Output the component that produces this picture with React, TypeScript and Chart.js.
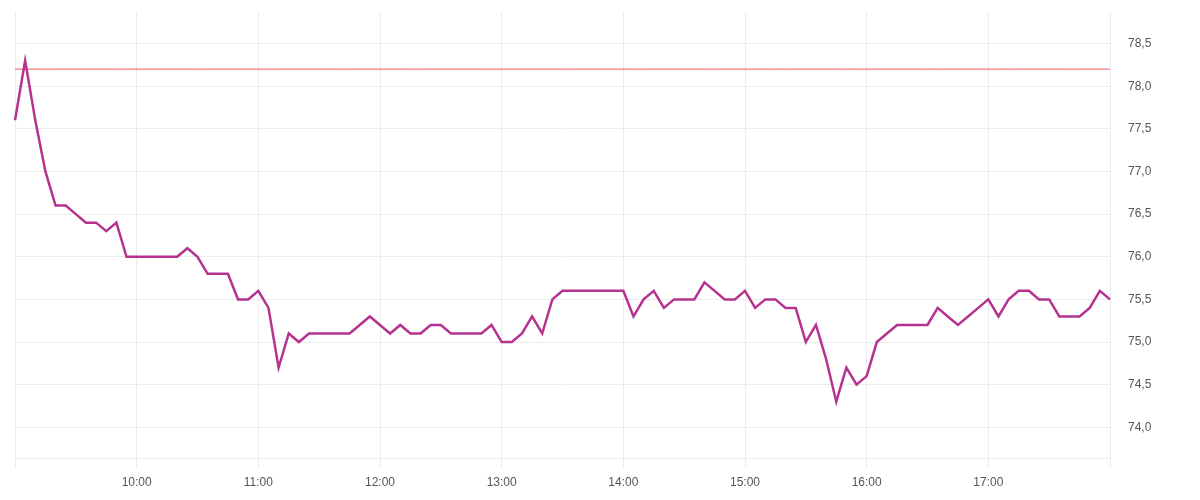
import React, { useEffect, useRef } from "react";
import { Chart, registerables } from "chart.js";

Chart.register(...registerables);

const times: string[] = [
  "9:00", "9:05", "9:10", "9:15", "9:20", "9:25", "9:30", "9:35", "9:40", "9:45", "9:50", "9:55",
  "10:00", "10:05", "10:10", "10:15", "10:20", "10:25", "10:30", "10:35", "10:40", "10:45", "10:50", "10:55",
  "11:00", "11:05", "11:10", "11:15", "11:20", "11:25", "11:30", "11:35", "11:40", "11:45", "11:50", "11:55",
  "12:00", "12:05", "12:10", "12:15", "12:20", "12:25", "12:30", "12:35", "12:40", "12:45", "12:50", "12:55",
  "13:00", "13:05", "13:10", "13:15", "13:20", "13:25", "13:30", "13:35", "13:40", "13:45", "13:50", "13:55",
  "14:00", "14:05", "14:10", "14:15", "14:20", "14:25", "14:30", "14:35", "14:40", "14:45", "14:50", "14:55",
  "15:00", "15:05", "15:10", "15:15", "15:20", "15:25", "15:30", "15:35", "15:40", "15:45", "15:50", "15:55",
  "16:00", "16:05", "16:10", "16:15", "16:20", "16:25", "16:30", "16:35", "16:40", "16:45", "16:50", "16:55",
  "17:00", "17:05", "17:10", "17:15", "17:20", "17:25", "17:30", "17:35", "17:40", "17:45", "17:50", "17:55",
  "18:00",
];

const values: number[] = [
  77.6, 78.3, 77.6, 77.0, 76.6, 76.6, 76.5, 76.4, 76.4, 76.3, 76.4, 76.0,
  76.0, 76.0, 76.0, 76.0, 76.0, 76.1, 76.0, 75.8, 75.8, 75.8, 75.5, 75.5,
  75.6, 75.4, 74.7, 75.1, 75.0, 75.1, 75.1, 75.1, 75.1, 75.1, 75.2, 75.3,
  75.2, 75.1, 75.2, 75.1, 75.1, 75.2, 75.2, 75.1, 75.1, 75.1, 75.1, 75.2,
  75.0, 75.0, 75.1, 75.3, 75.1, 75.5, 75.6, 75.6, 75.6, 75.6, 75.6, 75.6,
  75.6, 75.3, 75.5, 75.6, 75.4, 75.5, 75.5, 75.5, 75.7, 75.6, 75.5, 75.5,
  75.6, 75.4, 75.5, 75.5, 75.4, 75.4, 75.0, 75.2, 74.8, 74.3, 74.7, 74.5,
  74.6, 75.0, 75.1, 75.2, 75.2, 75.2, 75.2, 75.4, 75.3, 75.2, 75.3, 75.4,
  75.5, 75.3, 75.5, 75.6, 75.6, 75.5, 75.5, 75.3, 75.3, 75.3, 75.4, 75.6,
  75.5,
];

const hourLabels: string[] = ["10:00", "11:00", "12:00", "13:00", "14:00", "15:00", "16:00", "17:00"];
const gridTimes: string[] = ["9:00", "10:00", "11:00", "12:00", "13:00", "14:00", "15:00", "16:00", "17:00", "18:00"];

const thresholdValue = 78.2;
const yMin = 73.64;
const yMax = 78.87;
const yStep = 0.5;

const GRID = "#ececec";
const TEXT = "#555555";
const FONT = { family: "'Liberation Sans', Arial, sans-serif", size: 12 };

export default function App() {
  const ref = useRef<HTMLCanvasElement | null>(null);

  useEffect(() => {
    if (!ref.current) return;
    const chart = new Chart(ref.current, {
      type: "line",
      data: {
        labels: times,
        datasets: [
          {
            data: values,
            borderColor: "#b5338f",
            borderWidth: 2.5,
            pointRadius: 0,
            tension: 0,
            fill: false,
          },
          {
            data: times.map(() => thresholdValue),
            borderColor: "#f4585c",
            borderWidth: 1,
            pointRadius: 0,
            tension: 0,
            fill: false,
          },
        ],
      },
      options: {
        animation: false,
        responsive: false,
        devicePixelRatio: 1,
        layout: { padding: { left: 7, top: 4, right: 0, bottom: 0 } },
        plugins: { legend: { display: false }, tooltip: { enabled: false } },
        scales: {
          x: {
            type: "category",
            offset: false,
            grid: {
              color: (ctx: any) => (gridTimes.includes(times[ctx.index]) ? GRID : "rgba(0,0,0,0)"),
              tickLength: 10,
              lineWidth: 1,
            },
            border: { color: GRID },
            afterFit: (scale: any) => {
              scale.height = 32;
              scale.paddingLeft = 0;
              scale.paddingRight = 0;
            },
            ticks: {
              autoSkip: false,
              maxRotation: 0,
              minRotation: 0,
              padding: 7,
              color: TEXT,
              font: FONT,
              callback: (_v: any, i: number) => (hourLabels.includes(times[i]) ? times[i] : ""),
            },
          },
          y: {
            position: "right",
            min: yMin,
            max: yMax,
            grid: { color: GRID, drawTicks: true, tickLength: 18, tickColor: "rgba(0,0,0,0)" },
            border: { color: GRID },
            afterFit: (scale: any) => {
              scale.width = 82;
              scale.paddingTop = 0;
              scale.paddingBottom = 0;
            },
            ticks: {
              stepSize: yStep,
              includeBounds: false,
              padding: 0,
              color: TEXT,
              font: FONT,
              callback: (v: any) => Number(v).toFixed(1).replace(".", ","),
            },
          },
        },
      },
    });
    return () => chart.destroy();
  }, []);

  return (
    <div style={{ width: 1184, height: 482 }}>
      <canvas ref={ref} width={1184} height={482} />
    </div>
  );
}
